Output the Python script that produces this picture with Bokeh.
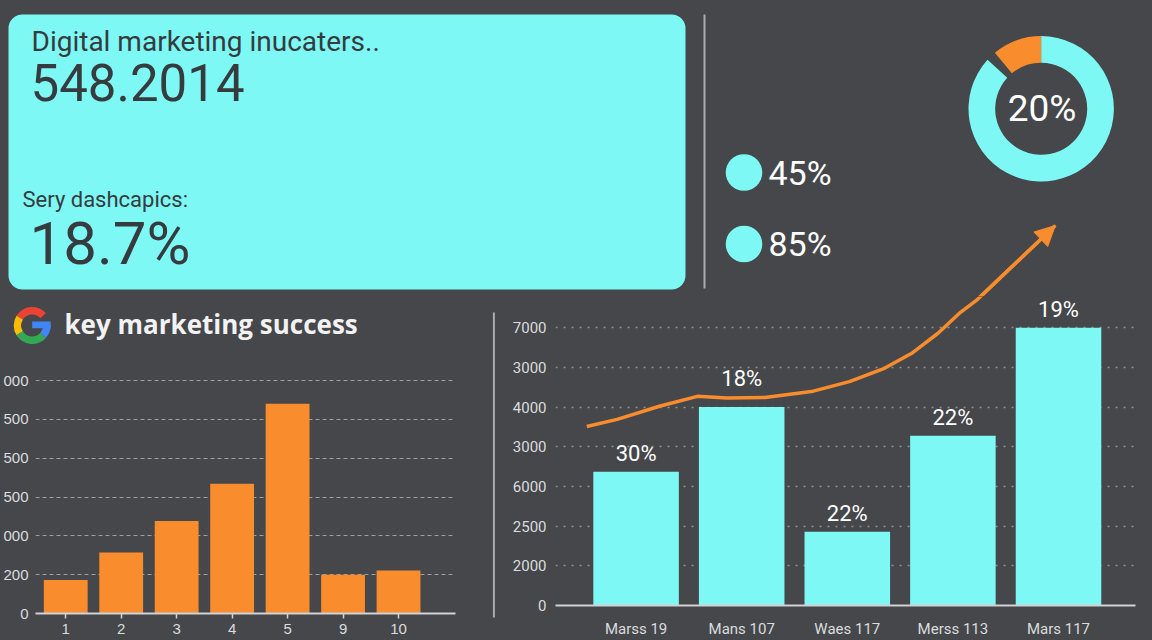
import math
from bokeh.plotting import figure
from bokeh.layouts import column, row
from bokeh.models import Range1d, FixedTicker, Arrow, NormalHead
from bokeh.core.properties import value
from bokeh.embed import file_html
from bokeh.resources import INLINE

# ---------------- data ----------------
card_title = "Digital marketing inucaters.."
card_value = "548.2014"
card_sub = "Sery dashcapics:"
card_rate = "18.7%"

kpi_labels = ["45%", "85%"]

donut_shares = [0.11, 0.89]
donut_label = "20%"

left_title = "key marketing success"
left_cats = ["1", "2", "3", "4", "5", "9", "10"]
left_vals = [0.86, 1.57, 2.38, 3.34, 5.40, 1.00, 1.11]
left_tick_labels = ["0", "200", "000", "500", "500", "500", "000"]

right_cats = ["Marss 19", "Mans 107", "Waes 117", "Merss 113", "Mars 117"]
right_vals = [3.37, 5.00, 1.86, 4.28, 7.00]
right_pcts = ["30%", "18%", "22%", "22%", "19%"]
right_tick_labels = ["0", "2000", "2500", "6000", "3000", "4000", "3000", "7000"]

trend_x = [-0.467, -0.179, 0.221, 0.580, 0.860, 1.220, 1.660, 2.020, 2.339,
           2.619, 2.859, 3.059, 3.219, 3.970]
trend_y = [4.51, 4.69, 5.02, 5.27, 5.23, 5.24, 5.39, 5.64, 5.96,
           6.37, 6.86, 7.36, 7.68, 9.53]

# ---------------- style ----------------
BG = "#45474a"
CYAN = "#7ef8f4"
ORANGE = "#f98c2c"
INK = "#353b3e"
LIGHT = "#dadcde"
SEP = "#a9abad"
CSS = {"background-color": BG}

W, H = 1152, 640
TOP_H = 296
LEFT_W = 488
SEP_W = 10


def base_fig(w, h, xr, yr, **kw):
    f = figure(width=w, height=h, x_range=xr, y_range=yr, output_backend="svg",
               toolbar_location=None, tools="", background_fill_color=BG,
               border_fill_color=BG, styles=CSS, frame_align=False, **kw)
    f.outline_line_color = None
    return f


# ---------------- top panel (reference pixel coords) ----------------
top = base_fig(W, TOP_H, Range1d(0, W), Range1d(TOP_H, 0),
               x_axis_location=None, y_axis_location=None, min_border=0)
top.grid.visible = False

top.quad(left=8, right=685, top=14, bottom=289, fill_color=CYAN,
         line_color=None, border_radius=14)


def card_text(x, y, t, size):
    top.text(x=[x], y=[y], text=[t], text_font=value("Roboto"),
             text_font_size=size, text_color=INK, text_align="left",
             text_baseline="middle")


card_text(31, 41, card_title, "28px")
card_text(30, 81.5, card_value, "51px")
card_text(22, 198.5, card_sub, "22px")
card_text(29, 243, card_rate, "60px")

top.segment(x0=[704], y0=[14], x1=[704], y1=[288], line_color=SEP, line_width=2)

kpi_y = [172 + 71.5 * i for i in range(len(kpi_labels))]
top.circle(x=[743.5] * len(kpi_labels), y=kpi_y, radius=18.3,
           fill_color=CYAN, line_color=None)
top.text(x=[768] * len(kpi_labels), y=kpi_y, text=kpi_labels,
         text_font=value("Roboto"), text_font_size="34px", text_color="#ffffff",
         text_align="left", text_baseline="middle")

gap = math.radians(8)
a0 = math.pi / 2
a1 = a0 + donut_shares[0] * 2 * math.pi
top.annular_wedge(x=[1040.7, 1040.7], y=[108.3, 108.3], inner_radius=46,
                  outer_radius=72.7, start_angle=[a0, a1 + gap],
                  end_angle=[a1, a0 + 2 * math.pi], fill_color=[ORANGE, CYAN],
                  line_color=None, direction="anticlock")
top.text(x=[1041.5], y=[107.5], text=[donut_label], text_font=value("Roboto"),
         text_font_size="37px", text_color="#ffffff", text_align="center",
         text_baseline="middle")

# geometry of the right chart frame (reference px), so the trend line continues
RL, RR = 555, 1135
RX0, RX1 = -0.763, 4.729
RT, RB = TOP_H, 613
GRID7 = 328
ppx = (RR - RL) / (RX1 - RX0)
ppy = (RB - GRID7) / 7.0
RY1 = (RB - RT) / ppy
top.extra_x_ranges = {"tx": Range1d(RX0 - RL / ppx, RX1 + (W - RR) / ppx)}
top.extra_y_ranges = {"ty": Range1d(RY1, RY1 + RT / ppy)}
top.line(trend_x, trend_y, x_range_name="tx", y_range_name="ty",
         line_color=ORANGE, line_width=3.5)
top.add_layout(Arrow(end=NormalHead(size=20, fill_color=ORANGE, line_color=ORANGE),
                     x_start=trend_x[-2], y_start=trend_y[-2],
                     x_end=trend_x[-1], y_end=trend_y[-1],
                     x_range_name="tx", y_range_name="ty",
                     line_color=ORANGE, line_width=3.5))

# ---------------- left title strip ----------------
LTOP = 350
tfig = base_fig(LEFT_W, LTOP - TOP_H, Range1d(0, LEFT_W), Range1d(LTOP, TOP_H),
                x_axis_location=None, y_axis_location=None, min_border=0)
tfig.grid.visible = False
g_cx, g_cy = 31.7, 325
g_parts = [(42, 148, "#ea4335"), (148, 212, "#fbbc05"), (212, 318, "#34a853"),
           (318, 360, "#4285f4")]
tfig.annular_wedge(x=[g_cx] * 4, y=[g_cy] * 4, inner_radius=11, outer_radius=18.5,
                   start_angle=[math.radians(a) for a, _, _ in g_parts],
                   end_angle=[math.radians(b) for _, b, _ in g_parts],
                   fill_color=[c for _, _, c in g_parts], line_color=None,
                   direction="anticlock")
tfig.quad(left=g_cx, right=g_cx + 18.5, top=g_cy - 4, bottom=g_cy + 2.8,
          fill_color="#4285f4", line_color=None)
tfig.text(x=[64], y=[323.5], text=[left_title], text_font=value("Open Sans"),
          text_font_size="26px", text_font_style="bold", text_color="#f2f2f2",
          text_align="left", text_baseline="middle")

# ---------------- left bar chart ----------------
LL, LR, LB, GRID6 = 34, 455, 613, 380
lppu = (LB - GRID6) / 6.0
lc = base_fig(LEFT_W, H - LTOP,
              Range1d((LL - 64.3) / 55.6, (LR - 64.3) / 55.6),
              Range1d(0, (LB - LTOP) / lppu),
              min_border_left=LL, min_border_right=LEFT_W - LR, min_border_top=0,
              min_border_bottom=H - LB)
lx = list(range(len(left_cats)))
lc.vbar(x=lx, top=left_vals, width=0.79, fill_color=ORANGE, line_color=None)
lc.xgrid.visible = False
lc.ygrid.ticker = FixedTicker(ticks=list(range(len(left_tick_labels))))
lc.ygrid.grid_line_color = "#9d9fa1"
lc.ygrid.grid_line_dash = "4 3"
lc.ygrid.grid_line_width = 1.2
lc.yaxis.ticker = FixedTicker(ticks=list(range(len(left_tick_labels))))
lc.yaxis.major_label_overrides = {i: t for i, t in enumerate(left_tick_labels)}
lc.yaxis.axis_line_color = None
lc.yaxis.major_tick_line_color = None
lc.yaxis.minor_tick_line_color = None
lc.yaxis.major_label_standoff = 1
lc.xaxis.ticker = FixedTicker(ticks=lx)
lc.xaxis.major_label_overrides = {i: t for i, t in enumerate(left_cats)}
lc.xaxis.axis_line_color = "#d0d2d4"
lc.xaxis.axis_line_width = 2
lc.xaxis.major_tick_line_color = "#d0d2d4"
lc.xaxis.major_tick_line_width = 1.5
lc.xaxis.major_tick_in = 0
lc.xaxis.major_tick_out = 5
lc.xaxis.minor_tick_line_color = None
lc.xaxis.major_label_standoff = 5
for ax in (lc.xaxis, lc.yaxis):
    ax.major_label_text_font = "Liberation Sans"
    ax.major_label_text_font_size = "15px"
    ax.major_label_text_color = LIGHT

# ---------------- separator ----------------
sep = base_fig(SEP_W, H - TOP_H, Range1d(LEFT_W, LEFT_W + SEP_W), Range1d(H, TOP_H),
               x_axis_location=None, y_axis_location=None, min_border=0)
sep.grid.visible = False
sep.segment(x0=[493.4], y0=[312], x1=[493.4], y1=[617], line_color=SEP, line_width=2)

# ---------------- right bar chart ----------------
R0 = LEFT_W + SEP_W
rc = base_fig(W - R0, H - TOP_H, Range1d(RX0, RX1), Range1d(0, RY1),
              min_border_left=RL - R0, min_border_right=W - RR,
              min_border_top=0, min_border_bottom=H - RB)
rx = list(range(len(right_cats)))
rc.vbar(x=rx, top=right_vals, width=0.81, fill_color=CYAN, line_color=None)
lift = [-18, -29, -18, -18, -18]
rc.text(x=rx, y=right_vals, text=right_pcts, y_offset=lift,
        text_font=value("Roboto"), text_font_size="22px", text_color="#ffffff",
        text_align="center", text_baseline="middle")
rc.line(trend_x, trend_y, line_color=ORANGE, line_width=3.5)
rc.xgrid.visible = False
rc.ygrid.ticker = FixedTicker(ticks=list(range(len(right_tick_labels))))
rc.ygrid.grid_line_color = "#8e9092"
rc.ygrid.grid_line_dash = "2 6"
rc.ygrid.grid_line_width = 1.5
rc.yaxis.ticker = FixedTicker(ticks=list(range(len(right_tick_labels))))
rc.yaxis.major_label_overrides = {i: t for i, t in enumerate(right_tick_labels)}
rc.yaxis.axis_line_color = None
rc.yaxis.major_tick_line_color = None
rc.yaxis.minor_tick_line_color = None
rc.yaxis.major_label_standoff = 3
rc.xaxis.ticker = FixedTicker(ticks=rx)
rc.xaxis.major_label_overrides = {i: t for i, t in enumerate(right_cats)}
rc.xaxis.axis_line_color = "#d0d2d4"
rc.xaxis.axis_line_width = 2
rc.xaxis.major_tick_line_color = None
rc.xaxis.minor_tick_line_color = None
rc.xaxis.major_label_standoff = 8
for ax in (rc.xaxis, rc.yaxis):
    ax.major_label_text_font = "Roboto"
    ax.major_label_text_font_size = "15px"
    ax.major_label_text_color = LIGHT

left_col = column(tfig, lc, styles=CSS)
bottom = row(left_col, sep, rc, styles=CSS)
layout = column(top, bottom, styles=CSS)
open("out.html", "w").write(file_html(layout, INLINE))
